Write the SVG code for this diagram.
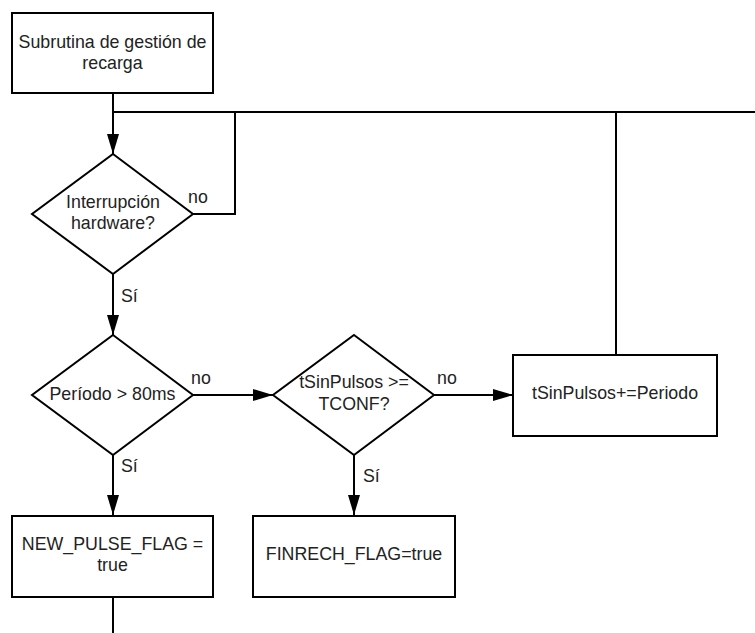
<svg xmlns="http://www.w3.org/2000/svg" width="755" height="633" viewBox="0 0 755 633">
  <style>
    .shape { fill: #ffffff; stroke: #000000; stroke-width: 2; }
    .edge { fill: none; stroke: #000000; stroke-width: 2; }
    .txt { font-family: "Liberation Sans", Arial, sans-serif; font-size: 17.8px; fill: #222222; text-anchor: middle; }
    .lbl { font-family: "Liberation Sans", Arial, sans-serif; font-size: 17.8px; fill: #222222; }
  </style>
  <defs>
    <marker id="arrow" markerUnits="userSpaceOnUse" markerWidth="20" markerHeight="12" refX="20" refY="6" orient="auto">
      <path d="M0,0 L20,6 L0,12 z" fill="#000000"/>
    </marker>
  </defs>
  <rect width="755" height="633" fill="#ffffff"/>

  <!-- connectors -->
  <g id="connectors">
    <path class="edge" d="M113,93 L113,154" marker-end="url(#arrow)"/>
    <path class="edge" d="M113,112 L755,112"/>
    <path class="edge" d="M193,214 L235,214 L235,112"/>
    <path class="edge" d="M616,355 L616,112"/>
    <path class="edge" d="M113,274 L113,335" marker-end="url(#arrow)"/>
    <path class="edge" d="M193,395 L273,395" marker-end="url(#arrow)"/>
    <path class="edge" d="M434,395 L513,395" marker-end="url(#arrow)"/>
    <path class="edge" d="M113,455 L113,515" marker-end="url(#arrow)"/>
    <path class="edge" d="M354,455 L354,515" marker-end="url(#arrow)"/>
    <path class="edge" d="M113,597 L113,633"/>
    <text class="lbl" x="188" y="203">no</text>
    <text class="lbl" x="121" y="302">Sí</text>
    <text class="lbl" x="191" y="384">no</text>
    <text class="lbl" x="121" y="472">Sí</text>
    <text class="lbl" x="437" y="384">no</text>
    <text class="lbl" x="363" y="482">Sí</text>
  </g>

  <!-- nodes -->
  <g id="start">
    <rect class="shape" x="12" y="13" width="201" height="80"/>
    <text class="txt" x="112.5" y="48">Subrutina de gestión de</text>
    <text class="txt" x="112.5" y="69">recarga</text>
  </g>
  <g id="hw-interrupt">
    <polygon class="shape" points="113,154 193,214 113,274 32,214"/>
    <text class="txt" x="113" y="208">Interrupción</text>
    <text class="txt" x="113" y="229">hardware?</text>
  </g>
  <g id="period-check">
    <polygon class="shape" points="113,335 193,395 113,455 32,395"/>
    <text class="txt" x="112.5" y="400">Período &gt; 80ms</text>
  </g>
  <g id="timeout-check">
    <polygon class="shape" points="354,335 434,395 354,455 273,395"/>
    <text class="txt" x="354" y="388">tSinPulsos &gt;=</text>
    <text class="txt" x="354" y="410">TCONF?</text>
  </g>
  <g id="accumulate">
    <rect class="shape" x="513" y="355" width="204" height="81"/>
    <text class="txt" x="615" y="399">tSinPulsos+=Periodo</text>
  </g>
  <g id="new-pulse">
    <rect class="shape" x="12" y="516" width="201" height="81"/>
    <text class="txt" x="112.5" y="550">NEW_PULSE_FLAG =</text>
    <text class="txt" x="112.5" y="571">true</text>
  </g>
  <g id="finrech">
    <rect class="shape" x="253" y="516" width="202" height="81"/>
    <text class="txt" x="354" y="560">FINRECH_FLAG=true</text>
  </g>
</svg>
